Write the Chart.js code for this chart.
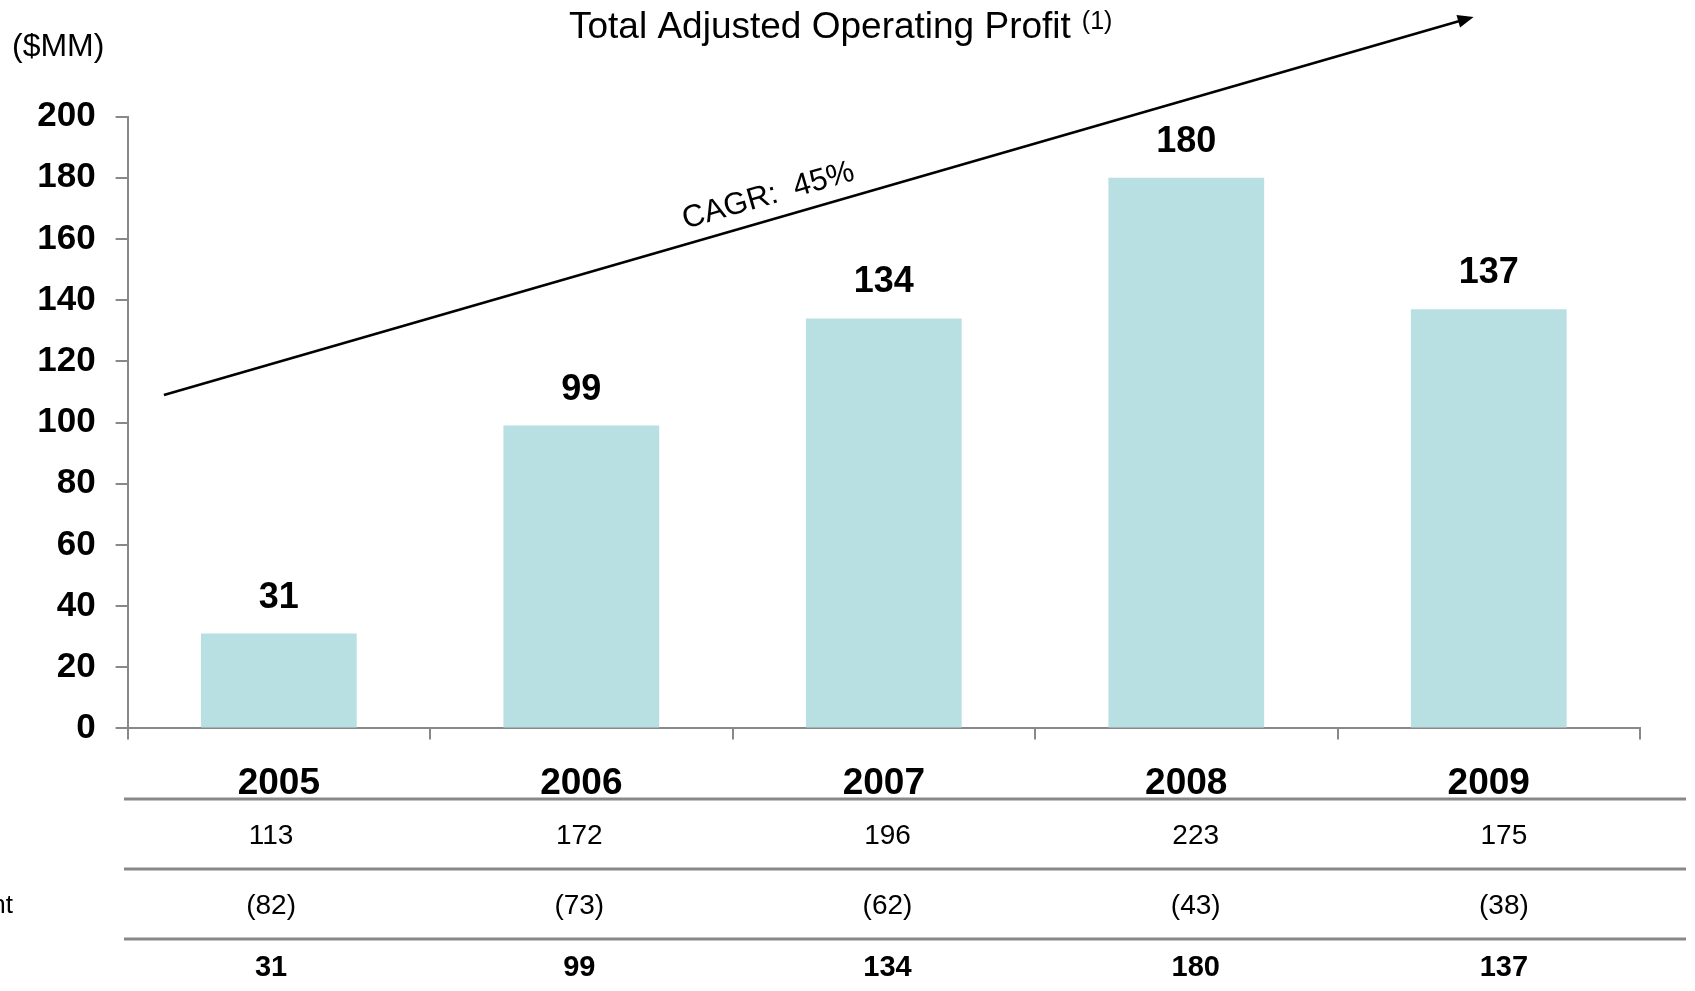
<!DOCTYPE html>
<html lang="en">
<head>
    <meta charset="UTF-8">
    <title>Total Adjusted Operating Profit</title>
    <script src="https://cdn.jsdelivr.net/npm/chart.js"></script>
    <style>
        body {
            margin: 0;
            padding: 0;
            background: #fff;
        }

        #wrap {
            width: 1695px;
            height: 991px;
        }
    </style>
</head>
<body>
    <div id="wrap">
        <canvas id="profitChart" width="1695" height="991"></canvas>
    </div>

    <script>
        // Datos del grafico
        const years = ['2005', '2006', '2007', '2008', '2009'];
        const operatingProfit = [31, 99, 134, 180, 137];
        const tableRow1 = [113, 172, 196, 223, 175];
        const tableRow2 = [-82, -73, -62, -43, -38];
        const yTicks = [0, 20, 40, 60, 80, 100, 120, 140, 160, 180, 200];
        const cagrLabel = 'CAGR:  45%';
        // arrow ends in data space (category index, value)
        const arrowFrom = [-0.38, 109];
        const arrowTo = [3.95, 232.6];

        const FONT = '"Liberation Sans", Arial, sans-serif';
        const GREY = '#888888';

        function fmtParen(v) {
            return v < 0 ? '(' + Math.abs(v) + ')' : String(v);
        }

        // Etiquetas de valor encima de cada barra
        const barLabels = {
            id: 'barLabels',
            afterDatasetsDraw(chart) {
                const ctx = chart.ctx;
                const meta = chart.getDatasetMeta(0);
                ctx.save();
                ctx.font = 'bold 36px ' + FONT;
                ctx.fillStyle = '#000';
                ctx.textAlign = 'center';
                ctx.textBaseline = 'alphabetic';
                meta.data.forEach(function (bar, i) {
                    ctx.fillText(String(operatingProfit[i]), bar.x, bar.y - 26);
                });
                ctx.restore();
            }
        };

        // Titulo, flecha CAGR y tabla inferior
        const extras = {
            id: 'extras',
            afterDraw(chart) {
                const ctx = chart.ctx;
                const xs = chart.scales.x;
                const ys = chart.scales.y;
                const area = chart.chartArea;
                ctx.save();

                // titulo
                ctx.fillStyle = '#000';
                ctx.textBaseline = 'alphabetic';
                ctx.textAlign = 'left';
                ctx.font = '37px ' + FONT;
                const title = 'Total Adjusted Operating Profit';
                ctx.fillText(title, 569, 38);
                const tw = ctx.measureText(title).width;
                ctx.font = '25px ' + FONT;
                ctx.fillText('(1)', 569 + tw + 11, 29);

                ctx.font = '32px ' + FONT;
                ctx.fillText('($MM)', 12, 56);

                // flecha
                const x1 = xs.getPixelForValue(arrowFrom[0]);
                const y1 = ys.getPixelForValue(arrowFrom[1]);
                const x2 = xs.getPixelForValue(arrowTo[0]);
                const y2 = ys.getPixelForValue(arrowTo[1]);
                const ang = Math.atan2(y2 - y1, x2 - x1);
                ctx.strokeStyle = '#000';
                ctx.lineWidth = 2.5;
                ctx.beginPath();
                ctx.moveTo(x1, y1);
                ctx.lineTo(x2 - 12 * Math.cos(ang), y2 - 12 * Math.sin(ang));
                ctx.stroke();
                ctx.beginPath();
                ctx.moveTo(x2, y2);
                ctx.lineTo(x2 - 16 * Math.cos(ang) + 6.5 * Math.sin(ang), y2 - 16 * Math.sin(ang) - 6.5 * Math.cos(ang));
                ctx.lineTo(x2 - 16 * Math.cos(ang) - 6.5 * Math.sin(ang), y2 - 16 * Math.sin(ang) + 6.5 * Math.cos(ang));
                ctx.closePath();
                ctx.fillStyle = '#000';
                ctx.fill();

                // texto CAGR sobre la flecha
                const t = 0.465;
                const cx = x1 + (x2 - x1) * t;
                const cy = y1 + (y2 - y1) * t;
                ctx.save();
                ctx.translate(cx, cy);
                ctx.rotate(ang);
                ctx.font = '31px ' + FONT;
                ctx.textAlign = 'center';
                ctx.textBaseline = 'alphabetic';
                ctx.fillText(cagrLabel, 2, -15);
                ctx.restore();

                // tabla
                const lineY = [799, 869, 939];
                ctx.strokeStyle = GREY;
                ctx.lineWidth = 3;
                lineY.forEach(function (y) {
                    ctx.beginPath();
                    ctx.moveTo(124, y);
                    ctx.lineTo(1686, y);
                    ctx.stroke();
                });

                ctx.fillStyle = '#000';
                ctx.textAlign = 'center';
                ctx.textBaseline = 'middle';
                const colX = function (i) { return area.left + 143.5 + i * 308.2; };
                ctx.font = '28px ' + FONT;
                tableRow1.forEach(function (v, i) { ctx.fillText(fmtParen(v), colX(i), 836.5); });
                tableRow2.forEach(function (v, i) { ctx.fillText(fmtParen(v), colX(i), 906.5); });
                ctx.font = 'bold 29px ' + FONT;
                operatingProfit.forEach(function (v, i) { ctx.fillText(fmtParen(v), colX(i), 967.5); });

                ctx.textAlign = 'right';
                ctx.font = '26px ' + FONT;
                ctx.fillText('nt', 13, 906);

                ctx.restore();
            }
        };

        const ctx = document.getElementById('profitChart').getContext('2d');
        new Chart(ctx, {
            type: 'bar',
            data: {
                labels: years,
                datasets: [{
                    data: operatingProfit,
                    backgroundColor: '#b8e0e3',
                    borderWidth: 0,
                    categoryPercentage: 1,
                    barPercentage: 0.515
                }]
            },
            options: {
                responsive: false,
                animation: false,
                layout: { padding: { left: 0, right: 55, top: 116.6, bottom: 0 } },
                plugins: {
                    legend: { display: false },
                    tooltip: { enabled: false }
                },
                scales: {
                    x: {
                        grid: {
                            offset: true,
                            drawOnChartArea: false,
                            drawTicks: true,
                            tickLength: 11,
                            color: GREY,
                            lineWidth: 2
                        },
                        border: { display: true, color: GREY, width: 2 },
                        ticks: {
                            color: '#000',
                            font: { family: FONT, size: 37, weight: 'bold' },
                            padding: 22,
                            maxRotation: 0
                        },
                        afterFit: function (scale) { scale.height = 262.6; }
                    },
                    y: {
                        min: 0,
                        max: 200,
                        afterBuildTicks: function (scale) {
                            scale.ticks = yTicks.map(function (v) { return { value: v }; });
                        },
                        grid: {
                            drawOnChartArea: false,
                            drawTicks: true,
                            tickLength: 12,
                            color: GREY,
                            lineWidth: 2
                        },
                        border: { display: true, color: GREY, width: 2 },
                        ticks: {
                            color: '#000',
                            font: { family: FONT, size: 35, weight: 'bold' },
                            padding: 20
                        },
                        afterFit: function (scale) { scale.width = 127.6; }
                    }
                }
            },
            plugins: [barLabels, extras]
        });
    </script>
</body>
</html>
